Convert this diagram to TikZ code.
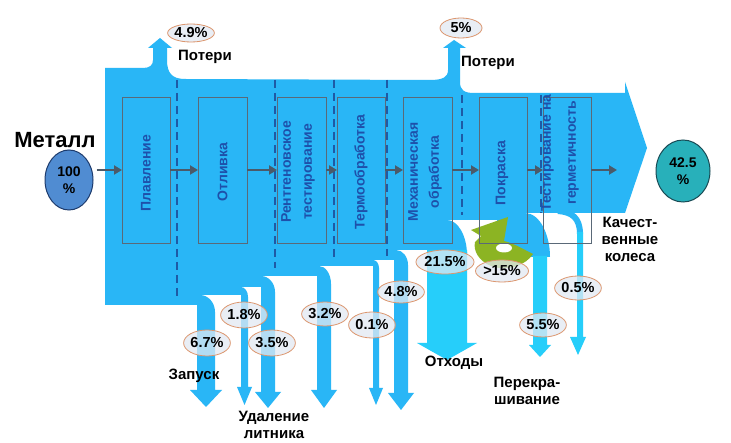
\documentclass[tikz,border=0pt]{standalone}
\usepackage{fontspec}
\setmainfont{Liberation Sans}
\usetikzlibrary{arrows.meta,shapes.geometric}
\definecolor{mainblue}{RGB}{41,182,246}
\definecolor{cyanstream}{RGB}{38,206,250}
\definecolor{dashblue}{RGB}{30,90,165}
\definecolor{boxline}{RGB}{90,105,120}
\definecolor{boxtext}{RGB}{30,80,170}
\definecolor{arrowgray}{RGB}{75,90,105}
\definecolor{metalfill}{RGB}{80,140,210}
\definecolor{metalline}{RGB}{30,60,110}
\definecolor{finalfill}{RGB}{40,176,186}
\definecolor{finalline}{RGB}{25,75,85}
\definecolor{ellfill}{RGB}{226,233,242}
\definecolor{ellline}{RGB}{220,150,110}
\definecolor{greenloop}{RGB}{140,180,35}
\newcommand{\bxfont}{\fontsize{14}{21}\selectfont\bfseries}
\newcommand{\pctfont}{\fontsize{14.5}{16}\selectfont\bfseries}
\newcommand{\lblfont}{\fontsize{15}{17}\selectfont\bfseries}
\begin{document}
\begin{tikzpicture}[x=1pt,y=-1pt,
  stepbox/.style={draw=boxline,line width=0.8pt,minimum width=48pt,minimum height=146pt,inner sep=0pt,outer sep=0pt},
  boxlabel/.style={rotate=90,text=boxtext,font=\bxfont,align=center,inner sep=0pt},
  flowarrow/.style={draw=arrowgray,line width=2.5pt,-{Triangle[length=8pt,width=9pt]}},
  sep/.style={draw=dashblue,line width=2pt,dash pattern=on 8pt off 5pt},
  pct/.style={ellipse,draw=ellline,line width=0.8pt,fill=ellfill,fill opacity=0.75,text opacity=1,inner sep=0pt,font=\pctfont},
  lbl/.style={font=\lblfont,align=center,inner sep=0pt},
  bigell/.style={ellipse,line width=1pt,inner sep=0pt,font=\fontsize{14}{17}\selectfont\bfseries,align=center}
]
\useasboundingbox (0,0) rectangle (731,443);
\fill[white] (0,0) rectangle (731,443);

% main body with two loss arrows and the big output arrow
\fill[mainblue] (105,68) -- (143,68) .. controls (150,68) and (153,65) .. (153,60) -- (153,48) -- (148,48) -- (160,38) -- (172,48) -- (167,48) -- (167,60) .. controls (167,73) and (172,79) .. (185,79)
  -- (430,80) .. controls (443,80) and (448,77) .. (448,70) -- (448,48) -- (443,48) -- (454,40) -- (466,48) -- (460,48) -- (460,82) .. controls (460,90) and (464,93) .. (474,93)
  -- (625,93) -- (625,82) -- (647,148) -- (625,213)
  -- (497,213) -- (497,220) -- (427,220) -- (427,250) -- (394,250) -- (394,260) -- (373,260) -- (373,266) -- (317,266) -- (317,276) -- (261,276) -- (261,287) -- (241,287) -- (241,295) -- (197,295) -- (197,305) -- (105,305) -- cycle;

% downward branches
\foreach \xl/\xr/\L/\rx/\ry/\yb/\ah/\yt in {197/215/295/15/17/390/7/407, 241/248/287/7/10/387/4/405, 261/275/276/14/16/392/6/408, 317/331/266/12/18/390/6/408, 373/379/260/6/8/388/4/405, 394/408/250/12/15/393/6/410}{
  \fill[mainblue] (\xl,\L) -- (\xl,\yb) -- ({\xl-\ah},\yb) -- ({(\xl+\xr)/2},\yt) -- ({\xr+\ah},\yb) -- (\xr,\yb) -- (\xr,{\L+\ry}) .. controls (\xr,{\L+0.45*\ry}) and ({\xr-0.45*\rx},\L) .. ({\xr-\rx},\L) -- cycle;
}
% waste branch
\fill[mainblue] (427,220) -- (427,252) -- (467,252) -- (467,255) .. controls (467,236) and (458,220) .. (447,220) -- cycle;
\fill[cyanstream] (427,250) -- (427,343) -- (417,343) -- (447,360) -- (477,343) -- (467,343) -- (467,250) -- cycle;
% repaint branch
\fill[mainblue] (497,213) -- (497,252) -- (533,257) -- (550,257) .. controls (550,235) and (540,213) .. (525,213) -- cycle;
\fill[cyanstream] (533,256) -- (533,345) -- (529,345) -- (540,357) -- (551,345) -- (547,345) -- (547,256) -- cycle;
% leak test branch
\draw[mainblue,line width=6pt] (558,211) .. controls (572,212) and (580,218) .. (580,234);
\fill[cyanstream] (577,232) -- (577,337) -- (570,337) -- (578,355) -- (586,337) -- (583,337) -- (583,232) -- cycle;

% recycle loop
\fill[greenloop] (471,230) -- (508,217) -- (504,241) .. controls (513,243) and (523,249) .. (533,254) .. controls (526,265) and (508,272) .. (491,266) .. controls (479,261) and (473,251) .. (475,242) -- (481,236) -- cycle;
\fill[white] (504,248) ellipse [x radius=8, y radius=4.5];

% stage separators
\draw[sep] (177,80) -- (177,297);
\draw[sep] (275,80) -- (275,268);
\draw[sep] (334,80) -- (334,260);
\draw[sep] (387,80) -- (387,256);
\draw[sep] (462,95) -- (462,215);
\draw[sep] (541,95) -- (541,213);

% process boxes
\node[stepbox] (melt) at (146,170) {};
\node[stepbox,minimum width=49pt] (cast) at (222.5,170) {};
\node[stepbox,minimum width=49pt] (xray) at (301.5,170) {};
\node[stepbox] (heat) at (361,170) {};
\node[stepbox,minimum width=49pt] (mech) at (427.5,170) {};
\node[stepbox] (paint) at (503,170) {};
\node[stepbox] (test) at (567,170) {};

\node[boxlabel] (melttxt) at (146,173) {Плавление};
\node[boxlabel] (casttxt) at (222.5,172) {Отливка};
\node[boxlabel] (xraytxt) at (298,172) {Рентгеновское\\тестирование};
\node[boxlabel] (heattxt) at (361,172) {Термообработка};
\node[boxlabel] (mechtxt) at (425,172) {Механическая\\обработка};
\node[boxlabel] (painttxt) at (502,173) {Покраска};
\node[boxlabel,font=\fontsize{14}{25}\selectfont\bfseries] (testtxt) at (560,153) {Тестирование на\\герметичность};

% input / output
\node[lbl,font=\fontsize{22}{24}\selectfont\bfseries] (metaltxt) at (55,140) {Металл};
\node[bigell,draw=metalline,fill=metalfill,minimum width=48pt,minimum height=60pt] (metal) at (69,180) {100\\\%};
\node[bigell,draw=finalline,fill=finalfill,minimum width=54pt,minimum height=62pt] (final) at (683,171) {42.5\\\%};
\coordinate (outend) at (617,170);

% flow arrows
\draw[flowarrow] ([xshift=3pt]metal.east |- melt.west) -- (melt.west);
\draw[flowarrow] (melt) -- (cast);
\draw[flowarrow] (cast) -- (xray);
\draw[flowarrow] (xray) -- (heat);
\draw[flowarrow] (heat) -- (mech);
\draw[flowarrow] (mech) -- (paint);
\draw[flowarrow] (paint) -- (test);
\draw[flowarrow] (test) -- (outend);

% percentages
\node[pct,minimum width=40pt,minimum height=18pt] (p49) at (191,33) {4.9\%};
\node[pct,minimum width=42pt,minimum height=20pt] (p5) at (461,28) {5\%};
\node[pct,minimum width=42pt,minimum height=26pt] (p67) at (207,343) {6.7\%};
\node[pct,minimum width=42pt,minimum height=26pt] (p18) at (244,315) {1.8\%};
\node[pct,minimum width=42pt,minimum height=26pt] (p35) at (272,343) {3.5\%};
\node[pct,minimum width=40pt,minimum height=24pt] (p32) at (325,314) {3.2\%};
\node[pct,minimum width=42pt,minimum height=26pt] (p01) at (372,325) {0.1\%};
\node[pct,minimum width=42pt,minimum height=22pt] (p48) at (401,292) {4.8\%};
\node[pct,minimum width=44pt,minimum height=24pt] (p215) at (445,262) {21.5\%};
\node[pct,minimum width=36pt,minimum height=22pt] (p15) at (502,271) {>15\%};
\node[pct,minimum width=42pt,minimum height=24pt] (p55) at (543,325) {5.5\%};
\node[pct,minimum width=42pt,minimum height=24pt] (p05) at (578,288) {0.5\%};

% labels
\node[lbl] (loss1) at (205,57) {Потери};
\node[lbl] (loss2) at (488,63) {Потери};
\node[lbl] (start) at (194,376) {Запуск};
\node[lbl] (gate) at (274,425) {Удаление\\литника};
\node[lbl] (waste) at (454,363) {Отходы};
\node[lbl] (repaint) at (527,391) {Перекра-\\шивание};
\node[lbl] (good) at (630,239) {Качест-\\венные\\колеса};
\end{tikzpicture}
\end{document}
